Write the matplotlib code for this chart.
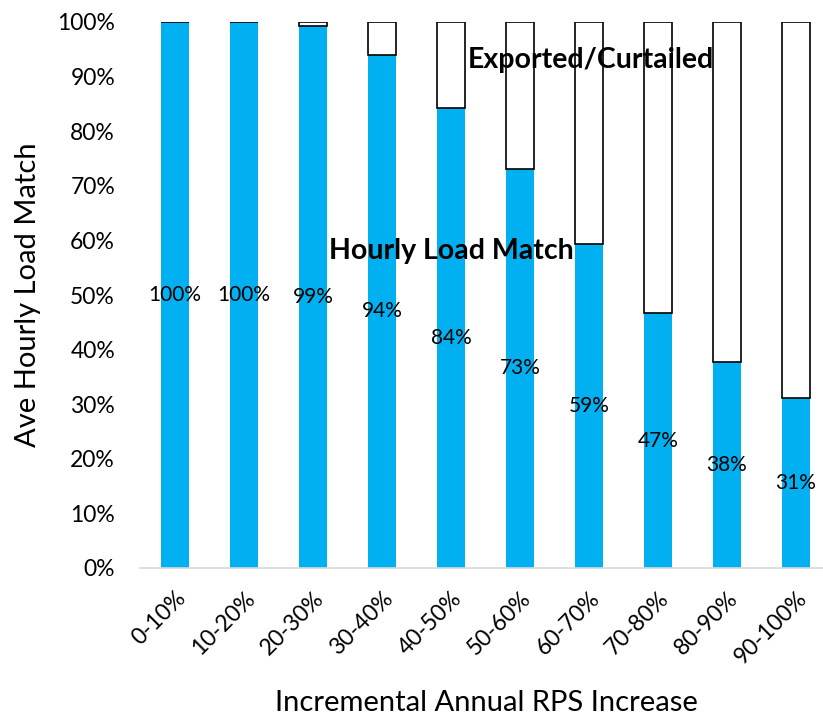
import matplotlib
matplotlib.use("Agg")
import matplotlib.pyplot as plt
from matplotlib.ticker import PercentFormatter

plt.rcParams['font.family'] = ['Lato', 'DejaVu Sans']

categories = ["0-10%", "10-20%", "20-30%", "30-40%", "40-50%",
              "50-60%", "60-70%", "70-80%", "80-90%", "90-100%"]
load_match = [1.00, 1.00, 0.993, 0.94, 0.842, 0.731, 0.594, 0.467, 0.377, 0.311]
exported = [1.0 - v for v in load_match]

W, H = 823, 716
fig = plt.figure(figsize=(W / 100, H / 100), dpi=100)
ax = fig.add_axes([140 / W, (H - 568) / H, (W - 140) / W, (568 - 22) / H])

x = list(range(len(categories)))
bw = 0.41
ax.bar(x, load_match, width=bw, color='#00B0F0', edgecolor='none', zorder=2)
ax.bar(x, exported, bottom=load_match, width=bw, color='white',
       edgecolor='black', linewidth=1.2, zorder=2)

for xi, v in zip(x, load_match):
    ax.text(xi, v / 2, f"{round(v * 100):.0f}%", ha='center', va='center',
            fontsize=15, color='black', zorder=3)

ax.set_xlim(-35 / 69, (W - 175) / 69)
ax.set_ylim(0, 1)
ax.yaxis.set_major_formatter(PercentFormatter(1.0, decimals=0))
ax.set_yticks([i / 10 for i in range(11)])
ax.set_xticks(x)
ax.set_xticklabels(categories, rotation=45, ha='right', rotation_mode='anchor')
ax.tick_params(axis='both', length=0, labelsize=16.5)
ax.tick_params(axis='y', pad=18)
ax.tick_params(axis='x', pad=14)

for s in ['top', 'right', 'left']:
    ax.spines[s].set_visible(False)
ax.spines['bottom'].set_color('#D9D9D9')
ax.spines['bottom'].set_linewidth(1.2)

ax.set_ylabel("Ave Hourly Load Match", fontsize=21, va='center')
ax.yaxis.set_label_coords((28 - 140) / (W - 140), 0.5)
ax.set_xlabel("Incremental Annual RPS Increase", fontsize=21, va='center')
ax.xaxis.set_label_coords((486 - 140) / (W - 140), -(703 - 568) / (568 - 22))

ax.text(4.0, 0.58, "Hourly Load Match", ha='center', va='center',
        fontsize=20.5, fontweight='bold', zorder=4)
ax.text(6.03, 0.93, "Exported/Curtailed", ha='center', va='center',
        fontsize=20.5, fontweight='bold', zorder=4)

fig.savefig("out.png", dpi=100)
